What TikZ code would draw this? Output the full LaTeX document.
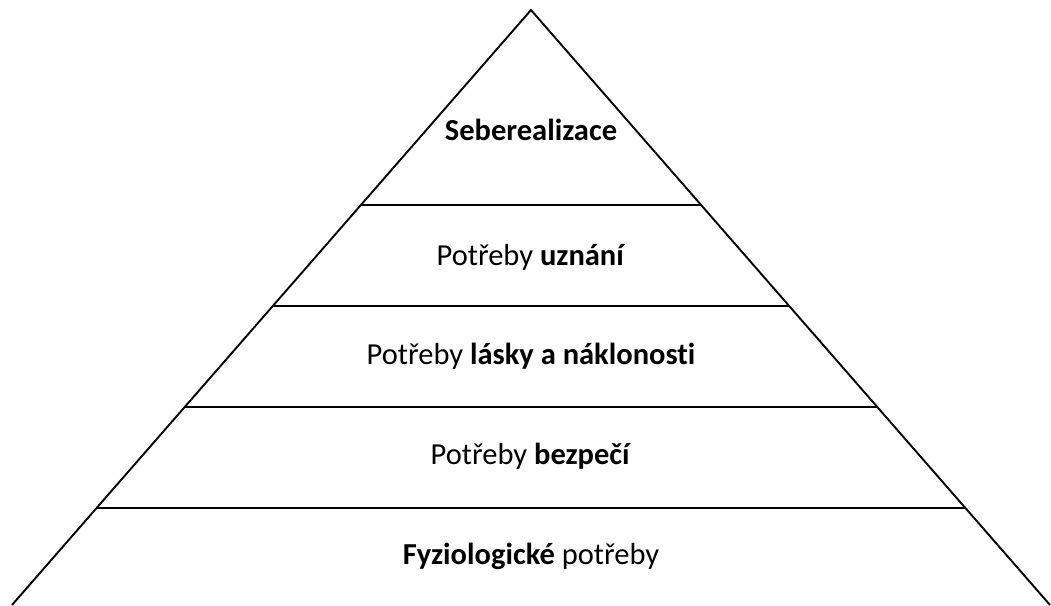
\documentclass[tikz,border=0pt]{standalone}
\usepackage{fontspec}
\setmainfont[Ligatures=CommonOff]{Carlito}
\begin{document}
\begin{tikzpicture}[x=1pt,y=-1pt,
  edge/.style={line width=1.9pt,line cap=butt},
  label/.style={anchor=base,inner sep=0pt,font=\fontsize{30.5}{36}\selectfont}]
\useasboundingbox (0,0) rectangle (1051,605);
\clip (0,0) rectangle (1051,605);
\coordinate (apex) at (531,10);
\coordinate (bl) at (12,605);
\coordinate (br) at (1050,605);
\coordinate (l1) at (361,205); \coordinate (r1) at (701,205);
\coordinate (l2) at (273,306); \coordinate (r2) at (789,306);
\coordinate (l3) at (185,407); \coordinate (r3) at (877,407);
\coordinate (l4) at (97,508);  \coordinate (r4) at (965,508);
\draw[edge,line join=miter] (bl) -- (apex) -- (br);
\draw[edge] (l1) -- (r1);
\draw[edge] (l2) -- (r2);
\draw[edge] (l3) -- (r3);
\draw[edge] (l4) -- (r4);
\node[label] (t1) at (531,140) {\textbf{Seberealizace}};
\node[label] (t2) at (531,265) {Potřeby \textbf{uznání}};
\node[label] (t3) at (531,364) {Potřeby \textbf{lásky a náklonosti}};
\node[label] (t4) at (531,464) {Potřeby \textbf{bezpečí}};
\node[label] (t5) at (531,564) {\textbf{Fyziologické} potřeby};
\end{tikzpicture}
\end{document}
